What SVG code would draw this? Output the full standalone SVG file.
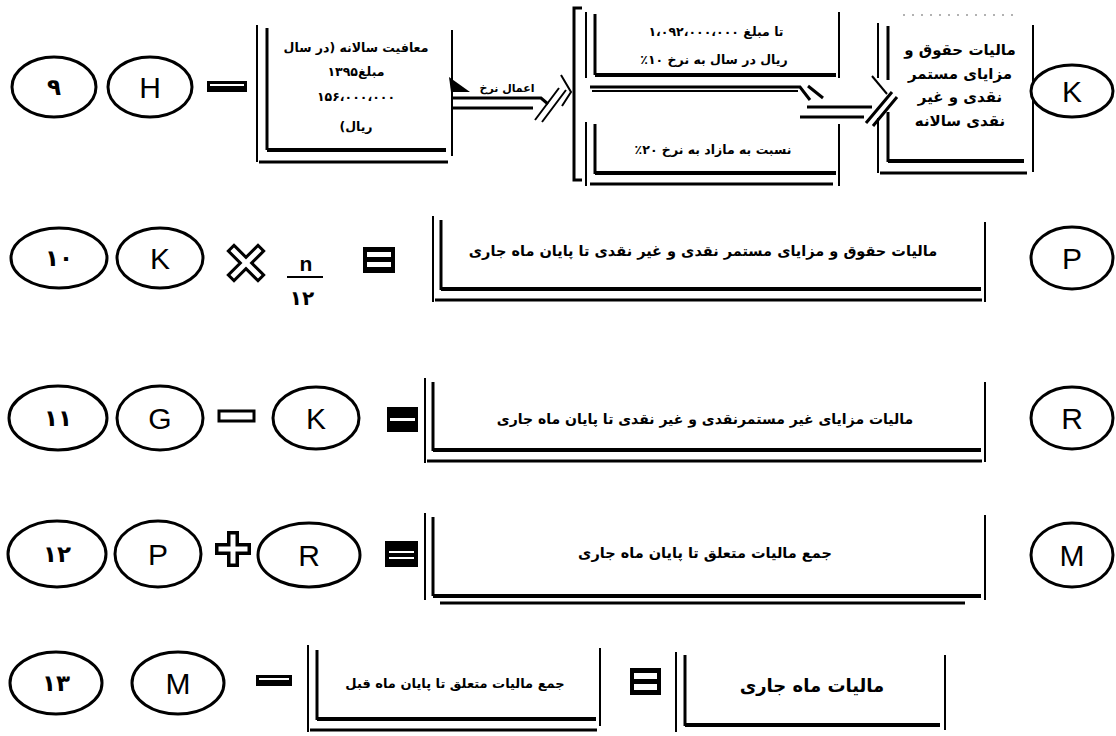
<svg xmlns="http://www.w3.org/2000/svg" width="1116" height="736" viewBox="0 0 1116 736">
<style>
.bg{fill:#fff}
.el{fill:#fff;stroke:#000;stroke-width:3}
.lt{font-family:"Liberation Sans",Arial,sans-serif;font-size:30px;text-anchor:middle;fill:#000}
.dg{font-family:"DejaVu Sans",sans-serif;font-weight:bold;font-size:23px;text-anchor:middle;fill:#000}
.fa{font-family:"DejaVu Sans",sans-serif;font-weight:bold;font-size:13px;text-anchor:middle;fill:#000;direction:rtl}
.ln{fill:none;stroke:#000}
.t2{stroke-width:2}
.t3{stroke-width:3}
.t4{stroke-width:4}
.dot{fill:none;stroke:#999;stroke-width:1.5;stroke-dasharray:2 7}
.blk{fill:#000}
.wht{fill:#fff}
</style>
<rect class="bg" x="0" y="0" width="1116" height="736"/>

<g id="connectors">
  <!-- arrow اعمال نرخ -->
  <polygon class="blk" points="449,77 470,92 451,92"/>
  <path class="ln t3" d="M453,98 H541 L548,104"/>
  <path class="ln t3" d="M453,108 H533"/>
  <path class="ln t2" d="M535,120 L559,88 M542,122 L566,90"/>
  <path class="ln t2" d="M561,75 L571,92 L562,106"/>
  <text class="fa" x="507" y="92" style="font-size:11px">اعمال نرخ</text>
  <!-- bracket -->
  <path class="ln t3" d="M582,8 H574 V180 H582"/>
  <!-- arrow to annual box -->
  <path class="ln t3" d="M590,87 H800 L810,100"/>
  <path class="ln t2" d="M592,91 H798"/>
  <path class="ln t3" d="M808,86 L823,98"/>
  <path class="ln t3" d="M807,107 H872"/>
  <path class="ln t3" d="M800,117 H864"/>
  <path class="ln t3" d="M866,123 L892,92 M873,126 L897,97"/>
  <path class="ln t2" d="M872,76 L887,94"/>
</g>

<!-- Row 1 -->
<g id="n9"><ellipse class="el" cx="54" cy="87" rx="42" ry="30"/><text class="dg" x="54" y="95">۹</text></g>
<g id="nH"><ellipse class="el" cx="150" cy="87" rx="42" ry="30"/><text class="lt" x="150" y="98">H</text></g>
<g id="op-minus1"><rect class="blk" x="207" y="81" width="40" height="11"/><rect class="wht" x="210" y="84" width="34" height="2"/></g>
<g id="box-exempt">
  <path class="ln t2" d="M257,25 V162"/><path class="ln t3" d="M267,28 V150"/>
  <path class="ln t2" d="M452,30 V156"/>
  <path class="ln t4" d="M267,150 H446"/><path class="ln t3" d="M259,162 H448"/>
  <text class="fa" x="356" y="52" style="font-size:12.5px">معافیت سالانه (در سال</text>
  <text class="fa" x="356" y="76" style="font-size:12.5px">مبلغ۱۳۹۵</text>
  <text class="fa" x="356" y="101" style="font-size:12.5px">۱۵۶،۰۰۰،۰۰۰</text>
  <text class="fa" x="356" y="131" style="font-size:12.5px">ریال)</text>
</g>
<g id="box-rate10">
  <path class="ln t2" d="M586,12 V78"/><path class="ln t3" d="M595,14 V75"/>
  <path class="ln t2" d="M839,12 V78"/>
  <path class="ln t4" d="M595,75 H836"/>
  <text class="fa" x="716" y="36" style="font-size:12.5px">تا مبلغ ۱،۰۹۲،۰۰۰،۰۰۰</text>
  <text class="fa" x="714" y="64" style="font-size:12.5px">ریال در سال به نرخ ۱۰٪</text>
</g>
<g id="box-rate20">
  <path class="ln t2" d="M586,122 V186"/><path class="ln t3" d="M595,124 V174"/>
  <path class="ln t2" d="M839,124 V186"/>
  <path class="ln t4" d="M595,173 H836"/><path class="ln t3" d="M590,184 H833"/>
  <text class="fa" x="713" y="154" style="font-size:12.5px">نسبت به مازاد به نرخ ۲۰٪</text>
</g>
<g id="box-annual">
  <path class="dot" d="M903,15 H1020"/>
  <path class="ln t2" d="M878,23 V78 M878,118 V173"/><path class="ln t3" d="M888,26 V80 M888,112 V162"/>
  <path class="ln t2" d="M1033,25 V172"/>
  <path class="ln t4" d="M888,161 H1024"/><path class="ln t3" d="M880,173 H1027"/>
  <text class="fa" x="960" y="55" style="font-size:15px">مالیات حقوق و</text>
  <text class="fa" x="960" y="79" style="font-size:15px">مزایای مستمر</text>
  <text class="fa" x="960" y="102" style="font-size:15px">نقدی و غیر</text>
  <text class="fa" x="960" y="126" style="font-size:15px">نقدی سالانه</text>
</g>
<g id="nK1"><ellipse class="el" cx="1072" cy="91" rx="41" ry="26"/><text class="lt" x="1072" y="102">K</text></g>

<!-- Row 2 -->
<g id="n10"><ellipse class="el" cx="59" cy="258" rx="48" ry="30"/><text class="dg" x="59" y="266">۱۰</text></g>
<g id="nK2"><ellipse class="el" cx="160" cy="258" rx="43" ry="30"/><text class="lt" x="160" y="269">K</text></g>
<g id="op-times">
  <path d="M234,251 L258,275 M258,251 L234,275" stroke="#000" stroke-width="11" stroke-linecap="square"/>
  <path d="M234,251 L258,275 M258,251 L234,275" stroke="#fff" stroke-width="5" stroke-linecap="square"/>
</g>
<g id="frac">
  <text x="306" y="271" style="font-family:'Liberation Sans',Arial,sans-serif;font-weight:bold;font-size:21px;text-anchor:middle">n</text>
  <path class="ln t2" d="M287,277 H323"/>
  <text class="dg" x="302" y="305" style="font-size:20px">۱۲</text>
</g>
<g id="op-eq2"><rect class="blk" x="363" y="247" width="32" height="26"/><rect class="wht" x="367" y="252" width="24" height="5"/><rect class="wht" x="367" y="262" width="24" height="5"/></g>
<g id="box-monthly">
  <path class="ln t2" d="M433,216 V302"/><path class="ln t3" d="M441,220 V290"/>
  <path class="ln t2" d="M985,222 V302"/>
  <path class="ln t4" d="M441,289 H981"/><path class="ln t3" d="M435,300 H982"/>
  <text class="fa" x="703" y="256" style="font-size:14.5px">مالیات حقوق و مزایای مستمر نقدی و غیر نقدی تا پایان ماه جاری</text>
</g>
<g id="nP"><ellipse class="el" cx="1072" cy="258" rx="41" ry="31"/><text class="lt" x="1072" y="269">P</text></g>

<!-- Row 3 -->
<g id="n11"><ellipse class="el" cx="58" cy="418" rx="49" ry="32"/><text class="dg" x="58" y="426">۱۱</text></g>
<g id="nG"><ellipse class="el" cx="160" cy="418" rx="43" ry="32"/><text class="lt" x="160" y="429">G</text></g>
<g id="op-minus3"><rect x="219" y="411" width="35" height="10" fill="#fff" stroke="#000" stroke-width="3"/></g>
<g id="nK3"><ellipse class="el" cx="316" cy="418" rx="43" ry="31"/><text class="lt" x="316" y="429">K</text></g>
<g id="op-eq3"><rect class="blk" x="387" y="407" width="31" height="25"/><rect class="wht" x="390" y="418" width="25" height="3"/></g>
<g id="box-nonrecurring">
  <path class="ln t2" d="M425,378 V463"/><path class="ln t3" d="M433,382 V451"/>
  <path class="ln t2" d="M985,382 V462"/>
  <path class="ln t4" d="M433,450 H981"/><path class="ln t3" d="M427,461 H982"/>
  <text class="fa" x="705" y="424" style="font-size:14px">مالیات مزایای غیر مستمرنقدی و غیر نقدی تا پایان ماه جاری</text>
</g>
<g id="nR"><ellipse class="el" cx="1072" cy="418" rx="41" ry="31"/><text class="lt" x="1072" y="429">R</text></g>

<!-- Row 4 -->
<g id="n12"><ellipse class="el" cx="57" cy="554" rx="49" ry="33"/><text class="dg" x="57" y="562">۱۲</text></g>
<g id="nP4"><ellipse class="el" cx="158" cy="554" rx="43" ry="33"/><text class="lt" x="158" y="565">P</text></g>
<g id="op-plus">
  <path d="M233,537 V561 M221,549 H245" stroke="#000" stroke-width="12" stroke-linecap="square"/>
  <path d="M233,537 V561 M221,549 H245" stroke="#fff" stroke-width="5" stroke-linecap="square"/>
</g>
<g id="nR4"><ellipse class="el" cx="309" cy="555" rx="51" ry="32"/><text class="lt" x="309" y="566">R</text></g>
<g id="op-eq4"><rect class="blk" x="385" y="541" width="33" height="26"/><rect class="wht" x="389" y="551" width="25" height="2"/><rect class="wht" x="389" y="557" width="25" height="2"/></g>
<g id="box-total">
  <path class="ln t2" d="M425,513 V600"/><path class="ln t3" d="M433,517 V596"/>
  <path class="ln t2" d="M985,515 V600"/>
  <path class="ln t4" d="M433,596 H981"/><path class="ln t3" d="M440,603 H965"/>
  <text class="fa" x="705" y="558" style="font-size:14.5px">جمع مالیات متعلق تا پایان ماه جاری</text>
</g>
<g id="nM4"><ellipse class="el" cx="1072" cy="555" rx="41" ry="32"/><text class="lt" x="1072" y="566">M</text></g>

<!-- Row 5 -->
<g id="n13"><ellipse class="el" cx="56" cy="683" rx="46" ry="31"/><text class="dg" x="56" y="691">۱۳</text></g>
<g id="nM5"><ellipse class="el" cx="178" cy="683" rx="46" ry="31"/><text class="lt" x="178" y="694">M</text></g>
<g id="op-minus5"><rect class="blk" x="256" y="675" width="36" height="11"/><rect class="wht" x="259" y="678" width="30" height="2"/></g>
<g id="box-prev">
  <path class="ln t2" d="M308,645 V732"/><path class="ln t3" d="M317,650 V720"/>
  <path class="ln t2" d="M600,648 V726"/>
  <path class="ln t4" d="M317,719 H596"/><path class="ln t3" d="M310,730 H597"/>
  <text class="fa" x="455" y="688" style="font-size:13px">جمع مالیات متعلق تا پایان ماه قبل</text>
</g>
<g id="op-eq5"><rect class="blk" x="630" y="668" width="31" height="27"/><rect class="wht" x="634" y="673" width="23" height="6"/><rect class="wht" x="634" y="684" width="23" height="6"/></g>
<g id="box-current">
  <path class="ln t2" d="M676,652 V732"/><path class="ln t3" d="M685,655 V726"/>
  <path class="ln t2" d="M945,655 V730"/>
  <path class="ln t4" d="M685,725 H940"/>
  <text class="fa" x="812" y="692" style="font-size:18px">مالیات ماه جاری</text>
</g>
</svg>
